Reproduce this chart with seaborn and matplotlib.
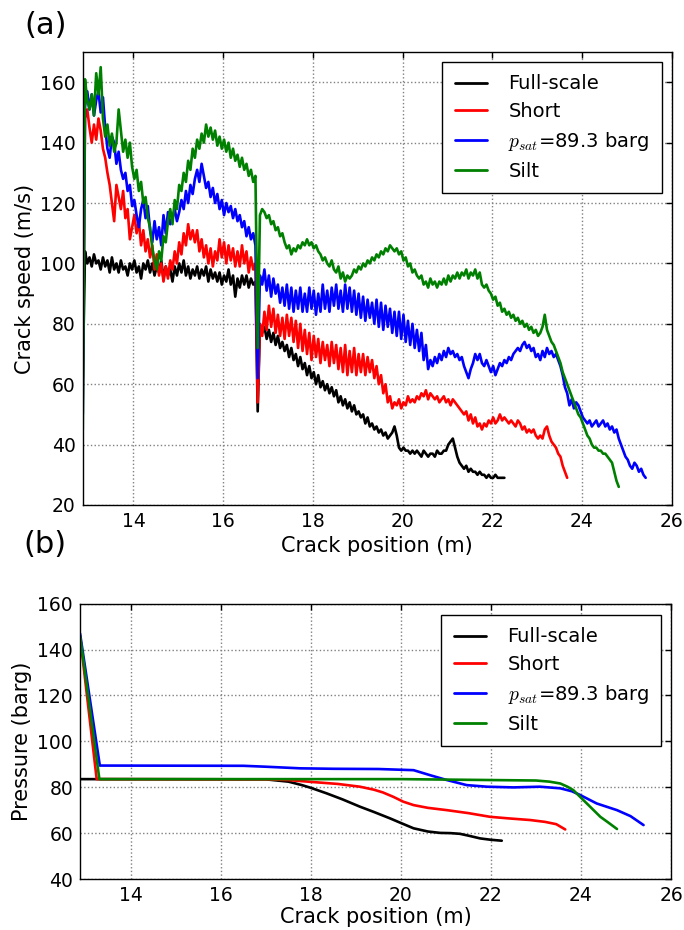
import numpy as np
import pandas as pd
import matplotlib
matplotlib.use("Agg")
import matplotlib.pyplot as plt
import seaborn as sns

sns.set_style("white")
plt.rcParams["font.family"] = ["DejaVu Sans"]
plt.rcParams["mathtext.fontset"] = "cm"
for key in ["text.color", "axes.labelcolor", "xtick.color", "ytick.color", "axes.edgecolor"]:
    plt.rcParams[key] = "black"

# ---------------- crack speed, sampled every 0.05 m from 12.87 m ----------------
x_start = 12.87
x_step = 0.05

speed_full = [
    62, 104, 100, 102, 99, 103, 100, 101, 98, 102,
    99, 101, 97, 102, 98, 100, 97, 101, 98, 99,
    96, 100, 98, 101, 97, 99, 95, 100, 98, 101,
    97, 100, 96, 99, 97, 101, 95, 99, 96, 98,
    94, 99, 96, 100, 97, 101, 96, 99, 95, 98,
    96, 99, 95, 98, 96, 99, 94, 98, 95, 97,
    94, 97, 93, 96, 94, 98, 93, 96, 89, 95,
    92, 96, 93, 96, 92, 95, 93, 94, 51, 79,
    77, 79, 75, 78, 74, 77, 73, 76, 72, 74,
    71, 73, 69, 72, 68, 70, 66, 69, 65, 67,
    63, 66, 62, 64, 60, 63, 59, 61, 58, 60,
    57, 59, 56, 58, 54, 56, 53, 55, 52, 54,
    51, 53, 50, 51, 49, 50, 47, 49, 46, 47,
    45, 46, 44, 45, 43, 44, 42, 43, 44, 46,
    43, 39, 38, 39, 38, 38, 37, 38, 37, 38,
    37, 36, 38, 37, 36, 37, 37, 36, 38, 37,
    37, 38, 38, 40, 41, 42, 39, 36, 34, 33,
    32, 33, 31, 32, 31, 31, 30, 31, 30, 30,
    29, 30, 29, 29, 30, 29, 29, 29, 29,
]

speed_short = [
    55, 148, 151, 145, 140, 146, 141, 148, 144, 138,
    135, 130, 126, 120, 114, 126, 122, 118, 124, 115,
    118, 108, 112, 116, 110, 114, 106, 111, 104, 108,
    102, 106, 98, 103, 96, 100, 94, 99, 95, 101,
    98, 104, 100, 107, 103, 110, 106, 113, 108, 111,
    107, 111, 104, 108, 102, 106, 100, 105, 99, 104,
    101, 108, 102, 107, 100, 106, 101, 105, 99, 104,
    99, 106, 100, 104, 97, 102, 98, 100, 54, 80,
    76, 84, 78, 86, 79, 85, 77, 83, 76, 82,
    75, 83, 76, 82, 74, 81, 72, 80, 71, 78,
    70, 77, 68, 76, 69, 75, 67, 74, 68, 73,
    66, 74, 67, 73, 65, 72, 64, 73, 63, 71,
    64, 72, 63, 70, 64, 70, 63, 69, 64, 68,
    62, 66, 60, 63, 57, 60, 54, 56, 52, 54,
    53, 55, 52, 54, 53, 56, 54, 55, 54, 56,
    55, 57, 56, 58, 55, 57, 56, 55, 56, 54,
    55, 56, 54, 55, 53, 55, 54, 53, 52, 51,
    50, 51, 48, 50, 47, 49, 46, 47, 45, 47,
    46, 48, 47, 49, 47, 48, 50, 48, 49, 48,
    47, 48, 47, 46, 48, 47, 45, 46, 44, 45,
    44, 45, 43, 42, 43, 42, 45, 46, 43, 41,
    40, 39, 37, 36, 33, 31, 29,
]

speed_psat = [
    50, 152, 157, 151, 156, 149, 154, 157, 150, 155,
    145, 138, 135, 142, 140, 133, 137, 131, 128, 130,
    124, 126, 119, 121, 116, 112, 118, 121, 115, 119,
    111, 107, 114, 108, 112, 106, 116, 110, 117, 113,
    115, 118, 114, 117, 121, 118, 124, 120, 126, 123,
    128, 131, 127, 133, 129, 125, 127, 122, 125, 120,
    123, 118, 121, 116, 120, 117, 119, 115, 118, 114,
    116, 112, 114, 109, 112, 108, 110, 106, 62, 96,
    93, 98, 91, 96, 89, 95, 90, 93, 87, 92,
    86, 93, 85, 92, 84, 91, 85, 92, 84, 90,
    84, 92, 85, 91, 83, 90, 84, 93, 85, 91,
    84, 92, 86, 93, 85, 91, 84, 93, 85, 92,
    84, 91, 83, 90, 82, 89, 81, 88, 82, 87,
    80, 88, 79, 87, 78, 86, 79, 85, 77, 84,
    76, 84, 75, 83, 74, 81, 73, 80, 72, 78,
    71, 77, 68, 73, 65, 68, 66, 69, 67, 70,
    68, 71, 69, 72, 70, 71, 69, 70, 68, 69,
    66, 64, 62, 65, 67, 70, 68, 70, 67, 66,
    68, 66, 64, 66, 63, 65, 67, 66, 68, 67,
    69, 68, 70, 71, 72, 71, 73, 74, 72, 73,
    71, 72, 69, 70, 68, 71, 69, 72, 70, 71,
    69, 70, 68, 66, 63, 59, 57, 53, 55, 52,
    54, 53, 51, 49, 48, 47, 48, 46, 47, 48,
    46, 47, 48, 46, 47, 45, 46, 44, 45, 42,
    40, 38, 36, 35, 33, 32, 34, 33, 31, 32,
    30, 29,
]

speed_silt = [
    45, 161, 154, 151, 156, 149, 163, 156, 165, 148,
    142, 146, 139, 143, 137, 140, 151, 144, 137, 141,
    135, 140, 132, 128, 131, 124, 127, 120, 122, 115,
    112, 105, 101, 98, 104, 101, 109, 107, 114, 118,
    113, 121, 118, 126, 124, 130, 127, 134, 131, 138,
    135, 141, 138, 143, 140, 146, 142, 145, 141, 144,
    139, 142, 138, 141, 137, 140, 135, 138, 134, 136,
    132, 135, 131, 133, 129, 131, 127, 129, 72, 116,
    118, 117, 115, 116, 113, 114, 111, 112, 109, 110,
    107, 105, 106, 103, 105, 104, 106, 105, 107, 106,
    108, 106, 107, 105, 106, 104, 103, 101, 102, 100,
    99, 101, 98, 97, 99, 95, 97, 94, 96, 95,
    96, 98, 97, 99, 98, 100, 99, 101, 100, 102,
    101, 103, 102, 104, 103, 105, 104, 106, 105, 104,
    105, 103, 104, 101, 102, 99, 100, 97, 98, 96,
    95, 96, 93, 94, 92, 95, 93, 94, 92, 94,
    93, 95, 93, 96, 94, 96, 95, 97, 95, 97,
    96, 98, 95, 97, 96, 98, 95, 97, 93, 92,
    93, 91, 90, 88, 89, 86, 87, 84, 85, 83,
    84, 82, 83, 81, 82, 80, 81, 79, 80, 78,
    79, 77, 78, 76, 77, 79, 83, 78, 76, 74,
    73, 71, 69, 67, 64, 62, 60, 58, 56, 54,
    52, 50, 49, 47, 45, 43, 42, 40, 39, 39,
    38, 38, 37, 37, 36, 35, 34, 31, 28, 26,
]

# ---------------- pressure at the crack tip ----------------
pos_full = [12.87, 17.0, 17.5, 17.8, 18.0, 18.35, 18.7, 19.09, 19.4, 19.76,
            20.0, 20.28, 20.6, 20.87, 21.1, 21.31, 21.5, 21.76, 22.0, 22.24]
pres_full = [83.6, 83.5, 82.5, 81.0, 79.8, 77.4, 74.8, 71.6, 69.3, 66.5,
             64.5, 62.2, 60.8, 60.2, 60.1, 59.8, 59.0, 57.8, 57.2, 56.8]

pos_short = [12.87, 13.24, 17.0, 17.5, 18.0, 18.6, 19.09, 19.4, 19.6, 19.83,
             20.05, 20.28, 20.6, 21.02, 21.5, 21.98, 22.4, 22.87, 23.2, 23.45, 23.65]
pres_short = [146.0, 83.6, 83.5, 83.2, 82.4, 81.5, 80.3, 79.0, 77.8, 75.9,
              73.8, 72.3, 71.1, 70.1, 68.8, 67.2, 66.5, 65.8, 65.0, 64.0, 61.7]

pos_psat = [12.87, 13.31, 16.5, 17.0, 17.76, 18.5, 19.5, 20.28, 20.65, 21.02,
            21.46, 21.91, 22.5, 23.09, 23.54, 23.8, 23.98, 24.35, 24.8, 25.1, 25.39]
pres_psat = [147.0, 89.5, 89.4, 89.0, 88.3, 88.1, 88.0, 87.5, 85.3, 83.2,
             81.0, 80.3, 80.0, 80.3, 79.6, 78.3, 76.7, 73.0, 70.1, 67.5, 63.6]

pos_silt = [12.87, 13.3, 20.0, 23.0, 23.3, 23.54, 23.7, 23.83, 24.13, 24.43, 24.6, 24.8]
pres_silt = [146.0, 83.6, 83.6, 83.0, 82.5, 81.7, 80.3, 78.8, 73.0, 67.2, 64.8, 61.9]

labels = ["Full-scale", "Short", r"$p_{sat}$=89.3 barg", "Silt"]
colors = ["black", "red", "blue", "green"]
speed_series = [speed_full, speed_short, speed_psat, speed_silt]
pressure_series = [(pos_full, pres_full), (pos_short, pres_short),
                   (pos_psat, pres_psat), (pos_silt, pres_silt)]

speed_frames = []
for lab, ys in zip(labels, speed_series):
    xs = x_start + x_step * np.arange(len(ys))
    speed_frames.append(pd.DataFrame({"pos": xs, "val": ys, "case": lab}))
speed_df = pd.concat(speed_frames, ignore_index=True)

pres_frames = []
for lab, (xs, ys) in zip(labels, pressure_series):
    pres_frames.append(pd.DataFrame({"pos": xs, "val": ys, "case": lab}))
pres_df = pd.concat(pres_frames, ignore_index=True)

palette = dict(zip(labels, colors))

fig = plt.figure(figsize=(6.84, 9.3), dpi=100)
ax1 = fig.add_axes([0.121, 0.457, 0.861, 0.487])
ax2 = fig.add_axes([0.117, 0.0545, 0.864, 0.2965])


def style_axes(ax, ylim, yticks, ylabel, xpad):
    ax.set_xlim(12.87, 26)
    ax.set_ylim(*ylim)
    ax.set_xticks([14, 16, 18, 20, 22, 24, 26])
    ax.set_yticks(yticks)
    ax.grid(True, linestyle=":", color="0.5", linewidth=1.0)
    ax.tick_params(direction="in", length=4, width=1, top=True, right=True,
                   labelsize=13.5, colors="black", pad=5)
    for sp in ax.spines.values():
        sp.set_color("black")
        sp.set_linewidth(1.0)
    ax.set_xlabel("Crack position (m)", fontsize=15, labelpad=xpad)
    ax.set_ylabel(ylabel, fontsize=15, labelpad=4)
    leg = ax.legend(loc="upper right", fontsize=14, frameon=True, fancybox=False,
                    edgecolor="black", framealpha=1, handlelength=1.65,
                    handletextpad=1.1, labelspacing=0.45, borderpad=0.65,
                    borderaxespad=0.5)
    leg.get_frame().set_linewidth(1.0)
    for line in leg.get_lines():
        line.set_linewidth(2.0)


sns.lineplot(data=speed_df, x="pos", y="val", hue="case", palette=palette,
             hue_order=labels, estimator=None, sort=False, linewidth=1.9, ax=ax1)
style_axes(ax1, (20, 170), list(range(20, 161, 20)), "Crack speed (m/s)", 4)

sns.lineplot(data=pres_df, x="pos", y="val", hue="case", palette=palette,
             hue_order=labels, estimator=None, sort=False, linewidth=1.9, ax=ax2)
style_axes(ax2, (40, 160), list(range(40, 161, 20)), "Pressure (barg)", 1)
ax2.get_legend().set_bbox_to_anchor((1.0, 0.995), transform=ax2.transAxes)

fig.text(0.066, 0.973, "(a)", fontsize=22, ha="center", va="center")
fig.text(0.066, 0.414, "(b)", fontsize=22, ha="center", va="center")

fig.savefig("out.png", dpi=100)
